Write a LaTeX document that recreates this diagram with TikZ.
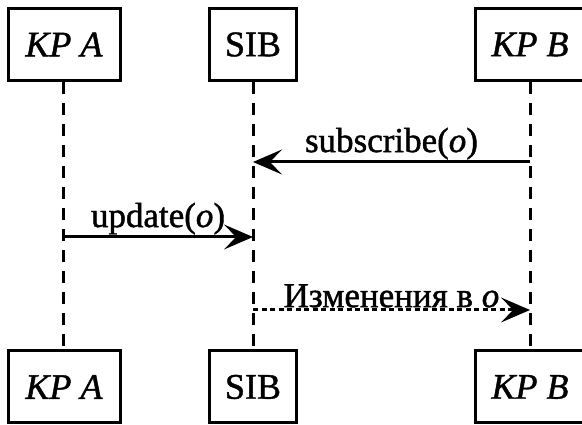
\documentclass[tikz,border=0pt]{standalone}
\usepackage{fontspec}
\setmainfont[FakeBold=1.2]{Liberation Serif}
\usetikzlibrary{arrows.meta}
\begin{document}
\begin{tikzpicture}[x=1pt,y=1pt,
  actor/.style={draw, line width=3pt, minimum height=72pt, inner sep=0pt,
    font=\fontsize{36}{40}\selectfont},
  lifeline/.style={line width=3pt, dash pattern=on 12pt off 9pt},
  tip/.style={-{Stealth[length=29pt,width=25pt,inset=12pt,line width=0pt]}},
  msg/.style={line width=3pt, tip},
  reply/.style={line width=3pt, dash pattern=on 5pt off 3.5pt, tip},
  lbl/.style={font=\fontsize{35}{40}\selectfont, inner sep=1pt, above}
]
\useasboundingbox (0,0) rectangle (582,425);

% participants, top row
\node[actor, minimum width=112pt] (kpaT) at (64,380.5) {\textit{KP A}};
\node[actor, minimum width=87pt]  (sibT) at (253,380.5) {SIB};
\node[actor, minimum width=110pt] (kpbT) at (530,380.5) {\textit{KP B}};

% participants, bottom row
\node[actor, minimum width=112pt] (kpaB) at (64,38) {\textit{KP A}};
\node[actor, minimum width=87pt]  (sibB) at (253,38) {SIB};
\node[actor, minimum width=110pt] (kpbB) at (530,38) {\textit{KP B}};

% lifelines
\draw[lifeline] ([xshift=-1pt]kpaT.south) -- ([xshift=-1pt]kpaB.north);
\draw[lifeline] (sibT.south) -- (sibB.north);
\draw[lifeline] (kpbT.south) -- (kpbB.north);

% message anchors on the lifelines
\coordinate (subFrom) at (kpbT.south |- 0,263);
\coordinate (subTo)   at (sibT.south |- 0,263);
\coordinate (updFrom) at ([xshift=-1pt]kpaT.south |- 0,188);
\coordinate (updTo)   at (sibT.south |- 0,188);
\coordinate (chgFrom) at (sibT.south |- 0,115);
\coordinate (chgTo)   at (kpbT.south |- 0,115);

% messages
\draw[msg] (subFrom) -- node[lbl] {subscribe(\textit{o})} (subTo);
\draw[msg] (updFrom) -- node[lbl] {update(\textit{o})} (updTo);
\draw[reply] (chgFrom) -- node[lbl] {Изменения в \textit{o}} (chgTo);
\end{tikzpicture}
\end{document}
